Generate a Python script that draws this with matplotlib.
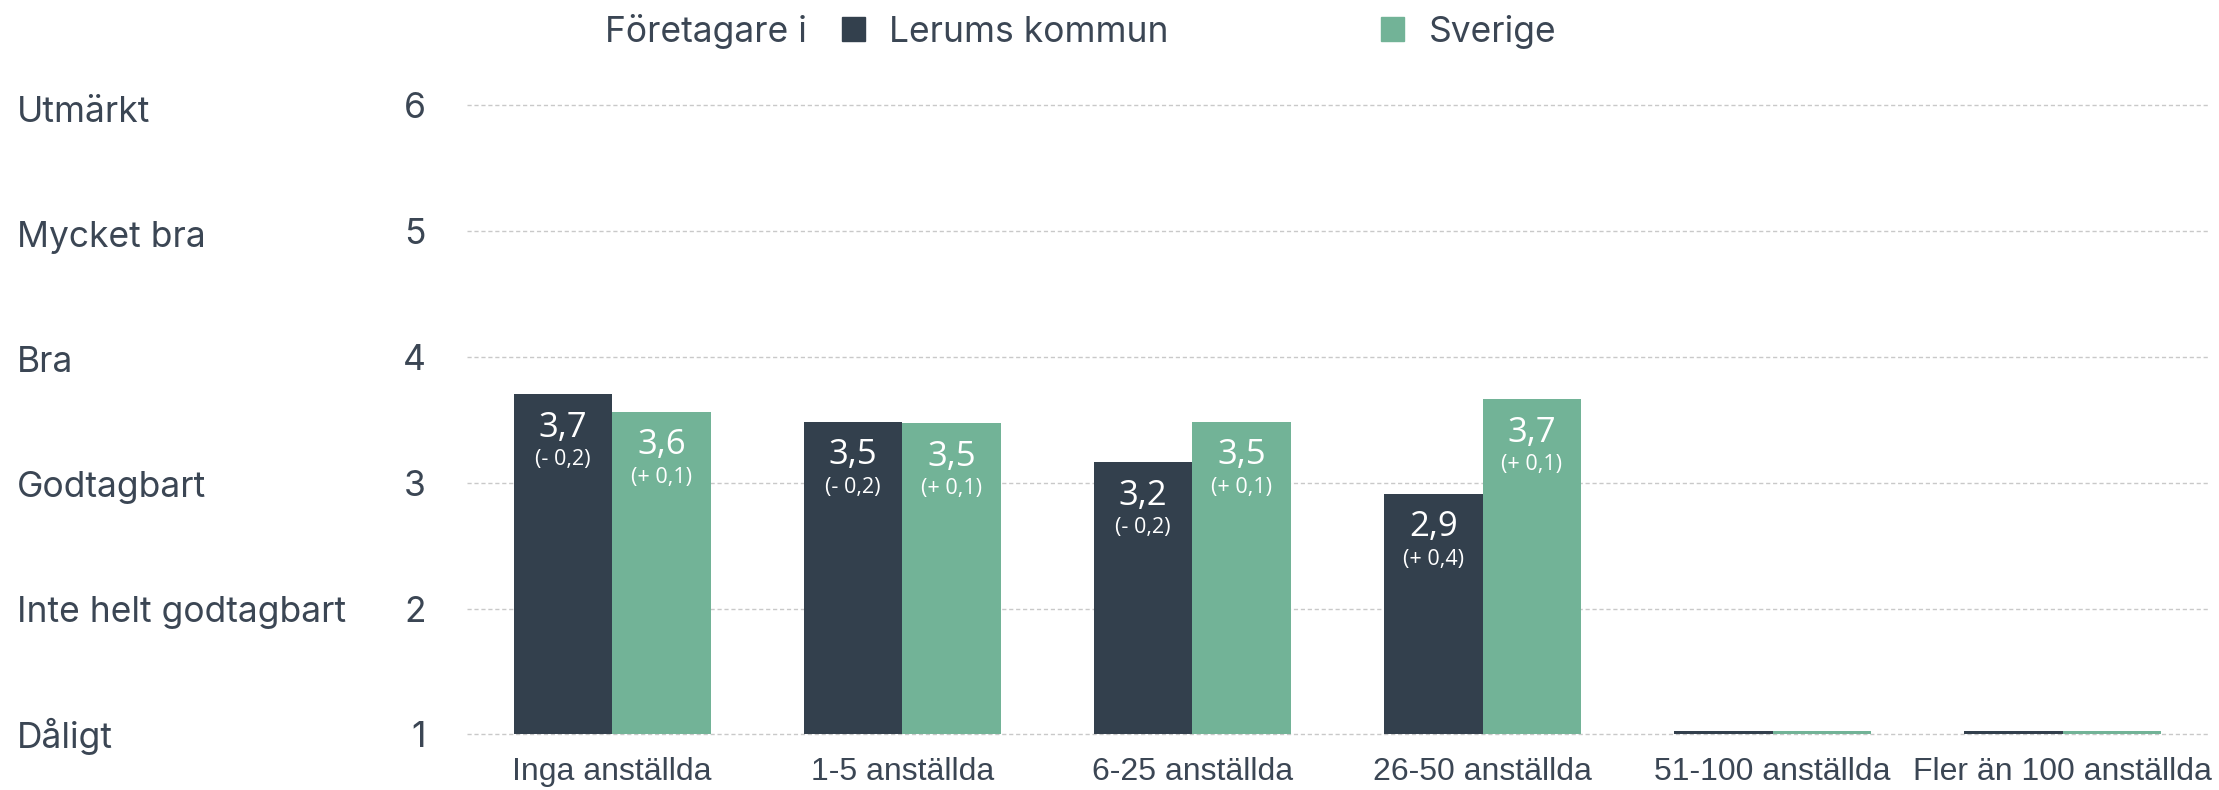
import matplotlib
matplotlib.use("Agg")
import matplotlib.pyplot as plt
import matplotlib.patches as mpatches
import matplotlib.transforms as mtransforms
import numpy as np

# data
categories = ["Inga anställda", "1-5 anställda", "6-25 anställda",
              "26-50 anställda", "51-100 anställda", "Fler än 100 anställda"]
lerum = [3.70, 3.48, 3.16, 2.91, np.nan, np.nan]
sverige = [3.56, 3.47, 3.48, 3.66, np.nan, np.nan]
lerum_diff = ["(- 0,2)", "(- 0,2)", "(- 0,2)", "(+ 0,4)", "", ""]
sverige_diff = ["(+ 0,1)", "(+ 0,1)", "(+ 0,1)", "(+ 0,1)", "", ""]
scale_ticks = [1, 2, 3, 4, 5, 6]
scale_names = ["Dåligt", "Inte helt godtagbart", "Godtagbart", "Bra",
               "Mycket bra", "Utmärkt"]

DARK = "#33404d"
GREEN = "#72b397"
TEXT = "#3b4654"
LABEL_FONT = ["Inter", "DejaVu Sans"]
CAT_FONT = ["Liberation Sans", "DejaVu Sans"]
VAL_FONT = ["Open Sans", "DejaVu Sans"]
FS = 25.5

plt.rcParams["font.family"] = LABEL_FONT

fig = plt.figure(figsize=(22.19, 7.90), dpi=100)
ax = fig.add_axes([0.2105, 0.0703, 0.7845, 0.7972])

x = np.arange(len(categories))
w = 0.34
base = 1


def heights(vals):
    v = np.array(vals, dtype=float)
    return np.where(np.isnan(v), 0.025, v - base)


b1 = ax.bar(x - w / 2, heights(lerum), w, bottom=base, color=DARK, zorder=3)
b2 = ax.bar(x + w / 2, heights(sverige), w, bottom=base, color=GREEN, zorder=3)

for bars, vals, diffs in [(b1, lerum, lerum_diff), (b2, sverige, sverige_diff)]:
    for rect, v, d in zip(bars, vals, diffs):
        if np.isnan(v):
            continue
        cx = rect.get_x() + rect.get_width() / 2
        ax.annotate(f"{v:.1f}".replace(".", ","), (cx, v), xytext=(0, -24),
                    textcoords="offset points", ha="center", va="center",
                    color="white", fontsize=25, family=VAL_FONT, zorder=4)
        ax.annotate(d, (cx, v), xytext=(0, -47), textcoords="offset points",
                    ha="center", va="center", color="white", fontsize=15.5,
                    family=VAL_FONT, zorder=4)

ax.set_xlim(-0.5, len(categories) - 0.5)
ax.set_ylim(1, 6)
ax.set_yticks(scale_ticks)
ax.set_xticks(x)
ax.set_xticklabels(categories, family=CAT_FONT, fontsize=23)
ax.tick_params(axis="both", length=0, colors=TEXT)
ax.tick_params(axis="y", pad=30, labelsize=FS)
ax.tick_params(axis="x", pad=16)
for s in ax.spines.values():
    s.set_visible(False)
ax.grid(axis="y", color="#c9c9c9", linestyle=(0, (3, 2)), linewidth=1.0,
        zorder=1)
ax.set_axisbelow(True)
for gl in ax.get_ygridlines():
    gl.set_clip_on(False)

# scale names at the far left (spaced a touch tighter than the ticks)
trans = mtransforms.blended_transform_factory(fig.transFigure, ax.transData)
for t, name in zip(scale_ticks, scale_names):
    ax.annotate(name, (0.0077, t), xycoords=trans,
                xytext=(0, -3 + (6 - t) * 0.75),
                textcoords="offset points", ha="left", va="center_baseline",
                fontsize=FS, color=TEXT)

# legend
fig.text(0.3637, 0.96, "Företagare i", ha="right", va="center",
         fontsize=FS, color=TEXT)
handles = [mpatches.Patch(color=DARK, label="Lerums kommun"),
           mpatches.Patch(color=GREEN, label="Sverige")]
fig.legend(handles=handles, loc="center left", bbox_to_anchor=(0.3795, 0.96),
           ncol=2, frameon=False, fontsize=FS, labelcolor=TEXT,
           handlelength=0.65, handleheight=0.65, handletextpad=0.68,
           columnspacing=6.0, borderpad=0, borderaxespad=0)

fig.savefig("out.png", dpi=100)
